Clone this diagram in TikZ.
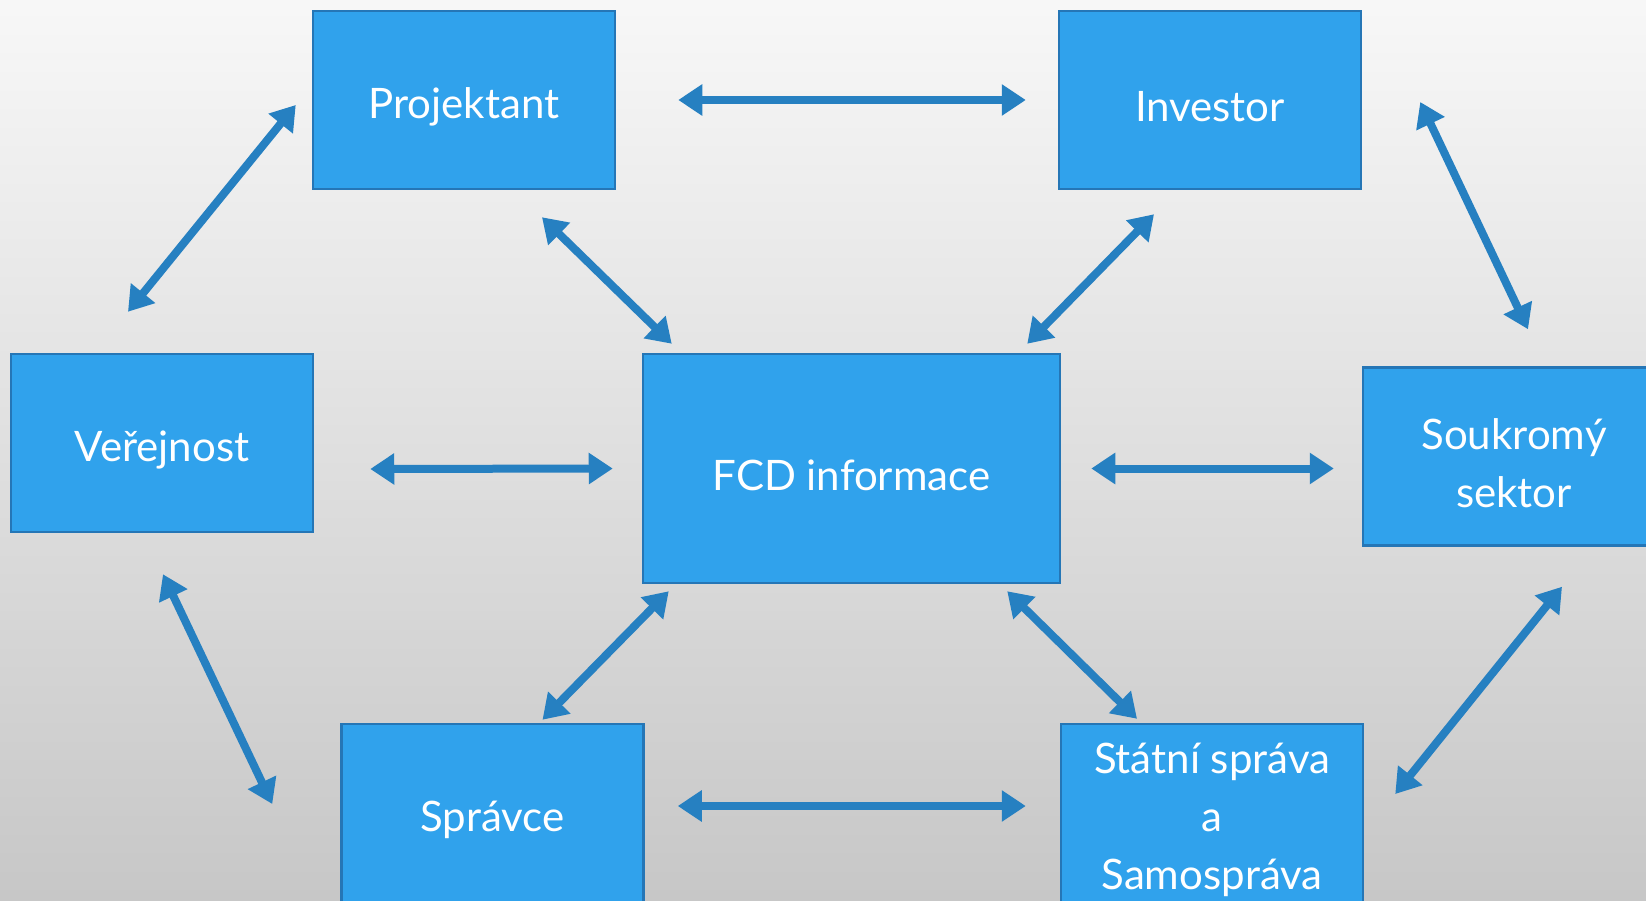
\documentclass[tikz,border=0pt]{standalone}
\usepackage{fontspec}
\setmainfont{Lato}
\usetikzlibrary{arrows.meta, calc}
\definecolor{boxBlue}{RGB}{48,162,236}
\definecolor{boxEdge}{RGB}{37,118,182}
\definecolor{arrowBlue}{RGB}{38,128,193}

\begin{document}
\begin{tikzpicture}[x=1pt, y=-1pt,
  box/.style={draw=boxEdge, fill=boxBlue, line width=2.5pt,
    minimum width=302pt, minimum height=178pt, inner sep=0pt,
    label={[boxtext]center:#1}},
  boxtext/.style={text=white, align=center, yshift=-7pt,
    font=\fontsize{42}{58}\selectfont},
  link/.style={arrowBlue, line width=8pt,
    {Triangle[length=24pt,width=30pt]}-{Triangle[length=24pt,width=30pt]}}]
\useasboundingbox (0,0) rectangle (1646,901);
\clip (0,0) rectangle (1646,901);
\shade[top color=white!97!black, bottom color=black!22] (0,0) rectangle (1646,901);

% the seven parties
\node[box=Projektant] (proj) at (464,100) {};
\node[box=Investor] (inv) at (1210,100) {};
\node[box=Veřejnost] (pub) at (162,443) {};
\node[box=FCD informace, minimum width=417pt, minimum height=229pt] (fcd) at (851.5,468.5) {};
\node[box={Soukromý\\sektor}] (sect) at (1514,456.5) {};
\node[box=Správce] (adm) at (492.5,813) {};
\node[box={Státní správa\\a\\Samospráva}] (gov) at (1212,813) {};

% links between them
\draw[link] ($(proj.east)+(62,0)$) -- ($(inv.west)+(-32,0)$);
\draw[link] ($(pub.east)+(56,26)$) -- ($(fcd.west)+(-29,0)$);
\draw[link] ($(fcd.east)+(30,0)$) -- ($(sect.west)+(-28,12)$);
\draw[link] ($(adm.east)+(33,-7)$) -- ($(gov.west)+(-34,-7)$);
\draw[link] ($(pub.north)+(-34,-41)$) -- ($(proj.west)+(-16,5)$);
\draw[link] ($(inv.east)+(58,2)$) -- ($(sect.north)+(14,-37)$);
\draw[link] ($(proj.south)+(78,27)$) -- ($(fcd.north west)+(30,-9)$);
\draw[link] ($(inv.south)+(-56,24)$) -- ($(fcd.north east)+(-34,-9)$);
\draw[link] ($(fcd.south west)+(27,7)$) -- ($(adm.north)+(50,-3)$);
\draw[link] ($(fcd.south east)+(-54,7)$) -- ($(gov.north)+(-75,-4)$);
\draw[link] ($(pub.south)+(1,41)$) -- ($(adm.west)+(-68,-9)$);
\draw[link] ($(sect.south)+(48,40)$) -- ($(gov.east)+(31,-19)$);
\end{tikzpicture}
\end{document}
